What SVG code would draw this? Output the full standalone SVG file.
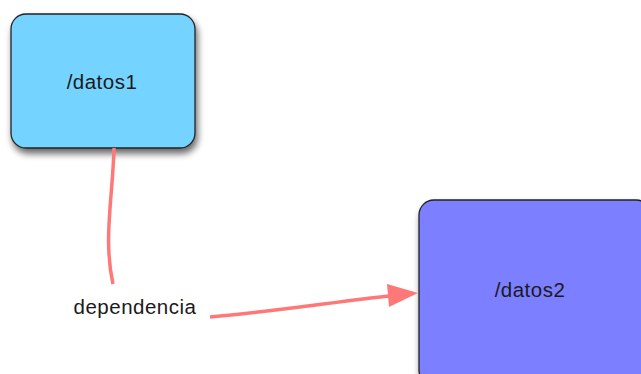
<svg xmlns="http://www.w3.org/2000/svg" width="641" height="374" viewBox="0 0 641 374">
<style>
.node{stroke:#222;stroke-width:1.3}
.lbl{font-family:"Liberation Sans",Arial,sans-serif;font-size:20.5px;letter-spacing:0.5px;fill:#1a1a1a;text-anchor:middle}
.conn{fill:none;stroke:#FF7878;stroke-width:3.5;stroke-linecap:butt}
</style>
<defs>
<filter id="sh" x="-20%" y="-20%" width="150%" height="150%">
<feGaussianBlur in="SourceAlpha" stdDeviation="3.5"/>
<feOffset dx="2" dy="5" result="b"/>
<feComponentTransfer><feFuncA type="linear" slope="0.6"/></feComponentTransfer>
<feMerge><feMergeNode/><feMergeNode in="SourceGraphic"/></feMerge>
</filter>
</defs>
<rect width="641" height="374" fill="#fff"/>
<g id="datos1">
<rect class="node" x="11" y="14" width="184" height="134" rx="15" fill="#74D3FF" filter="url(#sh)"/>
<text class="lbl" x="102" y="89">/datos1</text>
</g>
<g id="datos2">
<rect class="node" x="419" y="200" width="232" height="185" rx="15" fill="#7B7FFF" filter="url(#sh)"/>
<text class="lbl" x="530" y="297">/datos2</text>
</g>
<g id="connectors">
<path class="conn" d="M114,148 C113,195 103,240 113,284"/>
<path class="conn" d="M210,317 C280,311 340,301 390,296"/>
<polygon points="418,293 387,284 389,307" fill="#FF7878"/>
<text class="lbl" x="135" y="314">dependencia</text>
</g>
</svg>
